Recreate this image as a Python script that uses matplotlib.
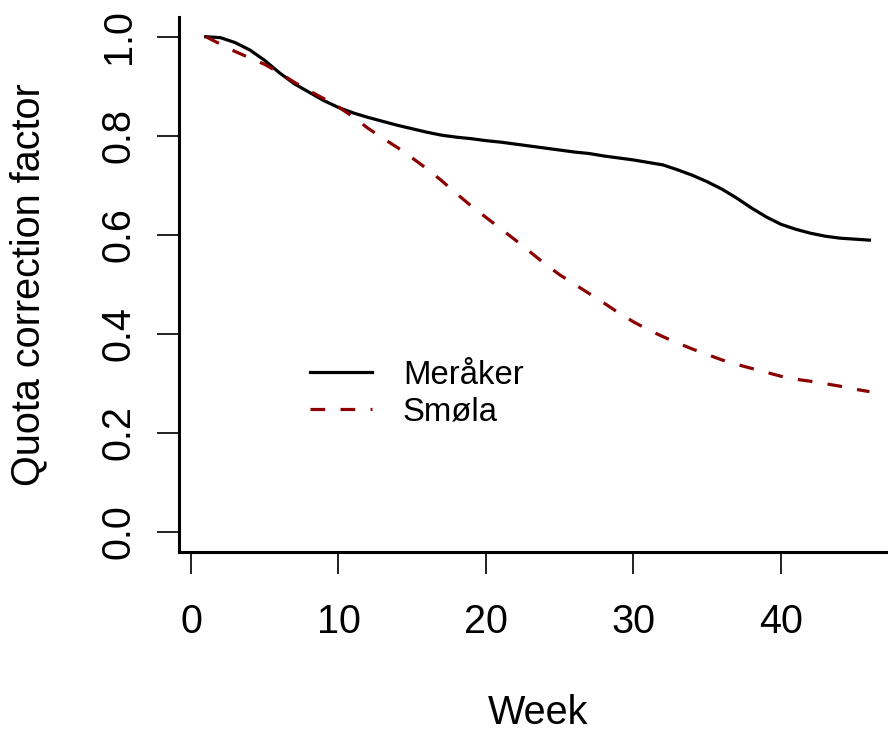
import numpy as np
import matplotlib
matplotlib.use("agg")
import matplotlib.pyplot as plt

plt.rcParams['font.family'] = ['Liberation Sans', 'DejaVu Sans']

# weekly quota correction factors
weeks = np.arange(1, 47)
meraker = [1.000, 0.998, 0.988, 0.973, 0.952, 0.927, 0.905, 0.888, 0.871, 0.857,
           0.846, 0.837, 0.829, 0.821, 0.814, 0.807, 0.801, 0.797, 0.794, 0.790,
           0.787, 0.783, 0.779, 0.775, 0.771, 0.767, 0.764, 0.759, 0.755, 0.751,
           0.746, 0.741, 0.731, 0.720, 0.707, 0.692, 0.674, 0.654, 0.636, 0.621,
           0.611, 0.603, 0.597, 0.593, 0.591, 0.589]
smola = [1.000, 0.985, 0.970, 0.957, 0.944, 0.927, 0.908, 0.891, 0.875, 0.858,
         0.838, 0.815, 0.795, 0.776, 0.755, 0.733, 0.709, 0.683, 0.658, 0.635,
         0.612, 0.589, 0.565, 0.541, 0.519, 0.500, 0.481, 0.462, 0.442, 0.424,
         0.408, 0.394, 0.381, 0.369, 0.358, 0.347, 0.338, 0.330, 0.322, 0.314,
         0.308, 0.304, 0.299, 0.294, 0.288, 0.283]
series_names = ['Meråker', 'Smøla']
xticks = [0, 10, 20, 30, 40]
yticks = [0.0, 0.2, 0.4, 0.6, 0.8, 1.0]

W, H = 888, 736
fig = plt.figure(figsize=(W / 100, H / 100), dpi=100)
# R-style plot region (4% padding around data range), runs past the right edge
ax = fig.add_axes([179.2 / W, 1 - 551.5 / H, (896 - 179.2) / W, (551.5 - 16.9) / H])

ax.plot(weeks, meraker, color='black', lw=2.3, label=series_names[0])
ax.plot(weeks, smola, color='#8B0000', lw=2.3, dashes=(4.6, 4.8),
        label=series_names[1])

ax.set_xlim(1 - 0.04 * 45, 46 + 0.04 * 45)
ax.set_ylim(-0.04, 1.04)

ax.spines['top'].set_visible(False)
ax.spines['right'].set_visible(False)
for s in ('left', 'bottom'):
    ax.spines[s].set_linewidth(2.2)

ax.set_xticks(xticks)
ax.set_yticks(yticks)
ax.set_yticklabels([f'{v:.1f}' for v in yticks])
ax.tick_params(axis='both', direction='out', length=16, width=1.4,
               labelsize=28.5, color='#222222')
ax.tick_params(axis='x', pad=21)
ax.tick_params(axis='y', pad=14)
for lab in ax.get_yticklabels():
    lab.set_rotation(90)
    lab.set_va('center')

ax.set_xlabel('Week', fontsize=28.5, va='center')
ax.xaxis.set_label_coords(0.5, (551.5 - 713) / (551.5 - 16.9))
ax.set_ylabel('Quota correction factor', fontsize=28.5, va='center')
ax.yaxis.set_label_coords((28 - 179.2) / (896 - 179.2), 0.5)

ax.legend(loc='center left', bbox_to_anchor=(310 / W, 1 - 393.5 / H),
          bbox_transform=fig.transFigure, frameon=False, fontsize=23.7,
          handlelength=1.88, handletextpad=0.94, labelspacing=0.18,
          borderpad=0, borderaxespad=0)

fig.savefig('out.png', dpi=100)
